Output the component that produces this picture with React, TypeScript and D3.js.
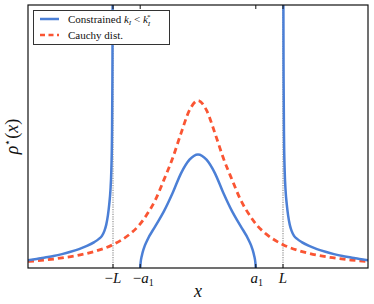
import React from "react";
import * as d3 from "d3";

// ---- data ----
const L = 1;
const A1 = 0.68;
const xDomain: [number, number] = [-2, 2];
const yDomain: [number, number] = [0, 1.25];

// Cauchy distribution (right half, mirrored)
const cauchyX = [0, 0.1, 0.2, 0.3, 0.4, 0.5, 0.6, 0.7, 0.8, 1.0, 1.2, 1.4, 1.6, 1.8, 2.0];
const cauchyY = [0.796, 0.75, 0.64, 0.52, 0.42, 0.325, 0.255, 0.2, 0.162, 0.111, 0.081, 0.061, 0.048, 0.038, 0.031];

// Constrained: inner lobe (right half, mirrored)
const innerX = [0, 0.1, 0.2, 0.3, 0.4, 0.5, 0.6, 0.64, 0.66, 0.675, 0.68];
const innerY = [0.54, 0.515, 0.45, 0.355, 0.27, 0.2, 0.13, 0.09, 0.06, 0.025, 0];

// Constrained: outer tails (right side, mirrored)
const outerX = [1.0005, 1.003, 1.007, 1.012, 1.02, 1.03, 1.045, 1.06, 1.08, 1.1, 1.13, 1.17, 1.22, 1.3, 1.4, 1.5, 1.6, 1.7, 1.8, 1.9, 2.0];
const outerY = [4.0, 1.5, 0.9, 0.62, 0.46, 0.37, 0.3, 0.25, 0.205, 0.178, 0.153, 0.137, 0.123, 0.106, 0.09, 0.077, 0.066, 0.057, 0.05, 0.043, 0.037];

const tickValues = [-L, -A1, A1, L];

const BLUE = "#4b7fd6";
const RED = "#fa5533";

function mirror(xs: number[], ys: number[]): [number, number][] {
  const left: [number, number][] = xs.map((x, i) => [-x, ys[i]] as [number, number]).reverse();
  const right: [number, number][] = xs.map((x, i) => [x, ys[i]] as [number, number]);
  if (xs[0] === 0) right.shift();
  return [...left, ...right];
}

export default function App() {
  const W = 374, H = 304;
  const left = 28, right = 368, top = 5, bottom = 268;
  const x = d3.scaleLinear().domain(xDomain).range([left, right]);
  const y = d3.scaleLinear().domain(yDomain).range([bottom, top]);
  const line = d3
    .line<[number, number]>()
    .x((d) => x(d[0]))
    .y((d) => y(d[1]))
    .curve(d3.curveMonotoneX);

  const cauchy = mirror(cauchyX, cauchyY);
  const inner = mirror(innerX, innerY);
  const outerRight: [number, number][] = outerX.map((v, i) => [v, outerY[i]]);
  const outerLeft: [number, number][] = outerX.map((v, i) => [-v, outerY[i]] as [number, number]).reverse();

  const font = "Liberation Serif";

  return (
    <svg
      width={W}
      height={H}
      fontFamily={font}
      style={{ position: "absolute", left: 0, top: 0, background: "#fff" }}
    >
      <defs>
        <clipPath id="plot">
          <rect x={left} y={top} width={right - left} height={bottom - top} />
        </clipPath>
      </defs>
      <rect x={0} y={0} width={W} height={H} fill="#fff" />
      <g clipPath="url(#plot)">
        {[-L, L].map((v) => (
          <line
            key={v}
            x1={x(v)}
            x2={x(v)}
            y1={top}
            y2={bottom}
            stroke="#999"
            strokeWidth={1.3}
            strokeDasharray="1.2,1.2"
          />
        ))}
        <path d={line(cauchy) || ""} fill="none" stroke={RED} strokeWidth={2.8} strokeDasharray="6,4" />
        <path d={line(inner) || ""} fill="none" stroke={BLUE} strokeWidth={2.5} />
        <path d={line(outerLeft) || ""} fill="none" stroke={BLUE} strokeWidth={2.5} />
        <path d={line(outerRight) || ""} fill="none" stroke={BLUE} strokeWidth={2.5} />
      </g>
      {/* frame */}
      <rect x={left} y={top} width={right - left} height={bottom - top} fill="none" stroke="#111" strokeWidth={1.2} />
      {/* ticks */}
      {tickValues.map((v) => (
        <g key={v}>
          <line x1={x(v)} x2={x(v)} y1={bottom} y2={bottom - 4} stroke="#111" strokeWidth={1} />
          <line x1={x(v)} x2={x(v)} y1={top} y2={top + 4} stroke="#111" strokeWidth={1} />
        </g>
      ))}
      {/* tick labels */}
      <text x={x(-L)} y={283} fontSize={15} textAnchor="middle" fill="#111" fontFamily={font}>
        <tspan>−</tspan>
        <tspan fontStyle="italic">L</tspan>
      </text>
      <text x={x(-A1) + 3} y={283} fontSize={15} textAnchor="middle" fill="#111" fontFamily={font}>
        <tspan>−</tspan>
        <tspan fontStyle="italic">a</tspan>
        <tspan fontSize={10} dy={3}>1</tspan>
      </text>
      <text x={x(A1) + 1} y={283} fontSize={15} textAnchor="middle" fill="#111" fontFamily={font}>
        <tspan fontStyle="italic">a</tspan>
        <tspan fontSize={10} dy={3}>1</tspan>
      </text>
      <text x={x(L)} y={283} fontSize={15} textAnchor="middle" fill="#111" fontFamily={font}>
        <tspan fontStyle="italic">L</tspan>
      </text>
      {/* axis labels */}
      <text x={(left + right) / 2} y={297} fontSize={18} textAnchor="middle" fontStyle="italic" fill="#111" fontFamily={font}>
        x
      </text>
      <text
        transform={`translate(18, ${(top + bottom) / 2}) rotate(-90)`}
        fontSize={18}
        textAnchor="middle"
        fill="#111"
        fontFamily={font}
      >
        <tspan fontStyle="italic">ρ</tspan>
        <tspan fontSize={11} dy={-7}>⋆</tspan>
        <tspan dy={7}>(</tspan>
        <tspan fontStyle="italic">x</tspan>
        <tspan>)</tspan>
      </text>
      {/* legend */}
      <rect x={33.5} y={10.5} width={136} height={34} fill="#fff" stroke="#333" strokeWidth={1} />
      <line x1={40} x2={59} y1={19} y2={19} stroke={BLUE} strokeWidth={2.5} />
      <line x1={40} x2={59} y1={35} y2={35} stroke={RED} strokeWidth={2.5} strokeDasharray="5,3.5" />
      <text x={68} y={22.5} fontSize={11} fill="#111" fontFamily={font}>
        <tspan>Constrained </tspan>
        <tspan fontStyle="italic">k</tspan>
        <tspan fontStyle="italic" fontSize={7} dy={2}>I</tspan>
        <tspan dy={-2}> {"<"} </tspan>
        <tspan fontStyle="italic">k</tspan>
        <tspan fontStyle="italic" fontSize={7} dy={3}>I</tspan>
        <tspan fontSize={7} dx={-3} dy={-7}>*</tspan>
      </text>
      <text x={68} y={39} fontSize={11} fill="#111" fontFamily={font}>
        Cauchy dist.
      </text>
    </svg>
  );
}
